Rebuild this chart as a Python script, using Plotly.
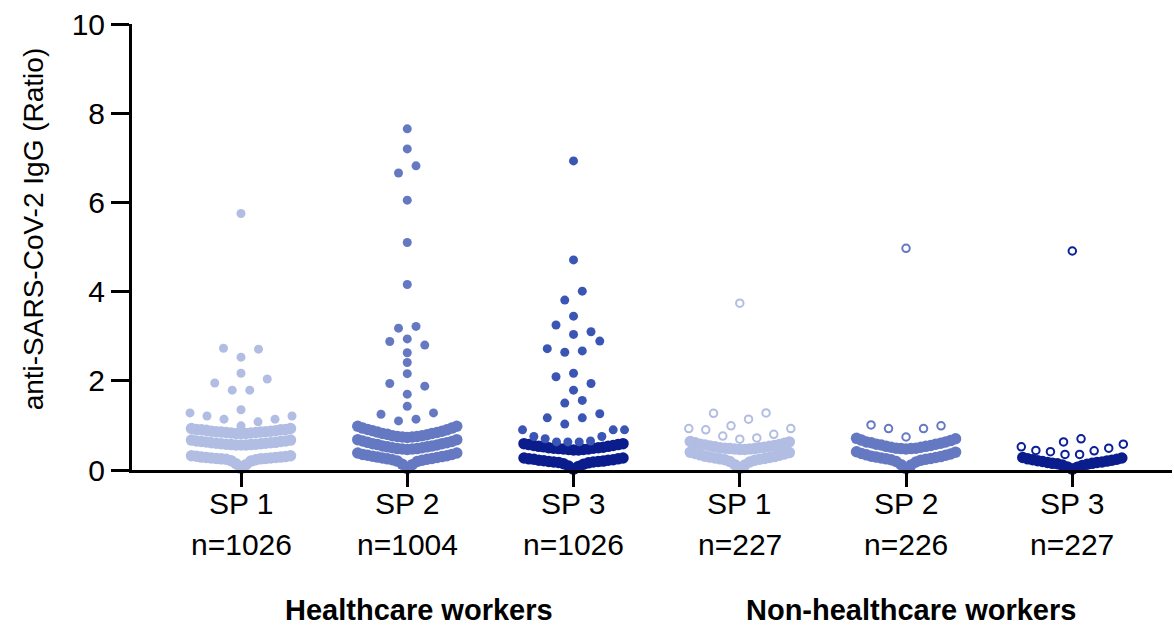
import plotly.graph_objects as go

# ---------------- data ----------------
categories = ["SP 1", "SP 2", "SP 3", "SP 1", "SP 2", "SP 3"]
n_labels = ["n=1026", "n=1004", "n=1026", "n=227", "n=226", "n=227"]
group_labels = ["Healthcare workers", "Non-healthcare workers"]
y_ticks = [0, 2, 4, 6, 8, 10]
y_title = "anti-SARS-CoV-2 IgG (Ratio)"

# Dense rows (the curved bands), values ascending within a row
hcw_sp1_bands = [
    [0.03, 0.12, 0.14, 0.20, 0.21, 0.23, 0.24, 0.25, 0.25, 0.26, 0.26, 0.27, 0.27, 0.28, 0.28, 0.29, 0.29, 0.30, 0.31, 0.32, 0.32],
    [0.56, 0.56, 0.56, 0.57, 0.57, 0.58, 0.58, 0.59, 0.59, 0.60, 0.60, 0.61, 0.61, 0.62, 0.63, 0.64, 0.64, 0.65, 0.65, 0.67, 0.67],
    [0.82, 0.82, 0.82, 0.83, 0.83, 0.84, 0.84, 0.85, 0.85, 0.86, 0.86, 0.87, 0.87, 0.88, 0.89, 0.90, 0.90, 0.91, 0.91, 0.93, 0.93],
]
hcw_sp2_bands = [
    [0.03, 0.12, 0.13, 0.19, 0.20, 0.22, 0.23, 0.24, 0.25, 0.26, 0.27, 0.28, 0.29, 0.30, 0.31, 0.32, 0.33, 0.35, 0.35, 0.38, 0.38],
    [0.46, 0.47, 0.47, 0.48, 0.48, 0.50, 0.50, 0.52, 0.52, 0.54, 0.54, 0.56, 0.57, 0.59, 0.59, 0.61, 0.62, 0.64, 0.65, 0.68, 0.68],
    [0.73, 0.74, 0.74, 0.75, 0.75, 0.77, 0.77, 0.79, 0.80, 0.82, 0.82, 0.84, 0.85, 0.87, 0.88, 0.90, 0.91, 0.94, 0.94, 0.98, 0.98],
]
hcw_sp3_bands = [
    [0.02, 0.08, 0.09, 0.13, 0.14, 0.16, 0.17, 0.18, 0.18, 0.19, 0.19, 0.20, 0.21, 0.22, 0.22, 0.23, 0.24, 0.25, 0.25, 0.27, 0.27],
    [0.45, 0.45, 0.46, 0.46, 0.47, 0.47, 0.48, 0.49, 0.49, 0.50, 0.50, 0.51, 0.52, 0.53, 0.53, 0.55, 0.55, 0.57, 0.57, 0.59, 0.59],
]
non_sp1_bands = [
    [0.03, 0.11, 0.12, 0.18, 0.19, 0.22, 0.23, 0.24, 0.25, 0.26, 0.27, 0.28, 0.29, 0.30, 0.31, 0.33, 0.34, 0.36, 0.37, 0.39, 0.40],
    [0.46, 0.46, 0.47, 0.47, 0.48, 0.48, 0.49, 0.50, 0.50, 0.51, 0.52, 0.53, 0.54, 0.55, 0.56, 0.57, 0.58, 0.60, 0.61, 0.63, 0.64],
]
non_sp2_bands = [
    [0.03, 0.11, 0.12, 0.18, 0.19, 0.22, 0.23, 0.24, 0.25, 0.26, 0.27, 0.28, 0.29, 0.30, 0.31, 0.33, 0.34, 0.36, 0.37, 0.40, 0.41],
    [0.47, 0.48, 0.48, 0.49, 0.49, 0.51, 0.51, 0.53, 0.53, 0.55, 0.56, 0.58, 0.58, 0.60, 0.61, 0.63, 0.63, 0.66, 0.67, 0.70, 0.71],
]
non_sp3_bands = [
    [0.02, 0.06, 0.07, 0.10, 0.11, 0.13, 0.14, 0.15, 0.15, 0.17, 0.17, 0.18, 0.19, 0.20, 0.21, 0.22, 0.23, 0.24, 0.25, 0.27, 0.28],
]

# Sparse rows (individual points), listed in the order they are laid out
hcw_sp1_rows = [
    [0.99, 1.08, 1.14, 1.14, 1.21, 1.21, 1.28], [1.35], [1.79, 1.79, 1.95, 2.04],
    [2.17], [2.53, 2.71, 2.73], [5.75],
]
hcw_sp2_rows = [
    [1.10, 1.14, 1.25, 1.28], [1.43], [1.70, 1.88, 1.94], [2.16], [2.41],
    [2.63, 2.80, 2.88], [2.94], [3.18, 3.22], [4.16], [5.10], [6.05],
    [6.66, 6.82], [7.20], [7.65],
]
hcw_sp3_rows = [
    [0.63, 0.63, 0.63, 0.65, 0.70, 0.75, 0.75, 0.90, 0.90, 0.90],
    [1.03, 1.17, 1.17, 1.26], [1.50, 1.56], [1.79, 1.94, 2.09], [2.17],
    [2.64, 2.67, 2.72, 2.89], [3.04, 3.10, 3.25], [3.45], [3.81, 4.01],
    [4.71], [6.93],
]
non_sp1_rows = [
    [0.69, 0.72, 0.76, 0.80, 0.90, 0.93, 0.93], [0.99, 1.14, 1.27, 1.28], [3.74],
]
non_sp2_rows = [
    [0.74, 0.93, 0.93, 0.99, 1.01], [4.97],
]
non_sp3_rows = [
    [0.35, 0.35, 0.41, 0.43, 0.44, 0.49, 0.52, 0.58], [0.63, 0.70], [4.91],
]

all_bands = [hcw_sp1_bands, hcw_sp2_bands, hcw_sp3_bands,
             non_sp1_bands, non_sp2_bands, non_sp3_bands]
all_rows = [hcw_sp1_rows, hcw_sp2_rows, hcw_sp3_rows,
            non_sp1_rows, non_sp2_rows, non_sp3_rows]

# ---------------- styles ----------------
LIGHT = "#b2bde3"
MEDIUM = "#6579c3"
SP3_DOT = "#3b55b5"
NAVY = "#0b1d8d"
NAVY_RING = "#0b1f98"
point_colors = [LIGHT, MEDIUM, SP3_DOT, LIGHT, MEDIUM, NAVY_RING]
band_colors = [LIGHT, MEDIUM, NAVY, LIGHT, MEDIUM, NAVY]
open_marker = [False, False, False, True, True, True]

PX_PER_CAT = 166.26
MAX_STEP = 17.5 / PX_PER_CAT
HALF = 51.0 / PX_PER_CAT
HALF_DENSE = 49.5 / PX_PER_CAT
FONT = "Liberation Sans, Arial, Helvetica, sans-serif"


def layout_row(values, center, max_step, half):
    m = len(values)
    step = max_step if m == 1 else min(max_step, 2 * half / (m - 1))
    xs = []
    for i in range(m):
        if m % 2 == 1:
            k = (i + 1) // 2
            off = 0 if i == 0 else (k if i % 2 == 1 else -k)
        else:
            k = i // 2 + 0.5
            off = -k if i % 2 == 0 else k
        xs.append(center + off * step)
    return xs


fig = go.Figure()
for ci in range(len(categories)):
    bx, by = [], []
    for band in all_bands[ci]:
        m = len(band)
        bx += layout_row(band, ci, 2 * HALF_DENSE / (m - 1), HALF_DENSE)
        by += band
    fig.add_trace(go.Scatter(
        x=bx, y=by, mode="markers", cliponaxis=False, hoverinfo="skip",
        marker=dict(size=11.5, color=band_colors[ci], line=dict(width=0)),
    ))
    px_, py_ = [], []
    for row in all_rows[ci]:
        px_ += layout_row(row, ci, MAX_STEP, HALF)
        py_ += row
    if open_marker[ci]:
        mk = dict(symbol="circle-open", size=7.5, color=point_colors[ci],
                  line=dict(width=2, color=point_colors[ci]))
    else:
        mk = dict(symbol="circle", size=9, color=point_colors[ci], line=dict(width=0))
    fig.add_trace(go.Scatter(x=px_, y=py_, mode="markers", cliponaxis=False,
                             marker=mk, hoverinfo="skip"))

annotations = []
for ci in range(len(categories)):
    annotations.append(dict(x=ci, y=-0.074, xref="x", yref="paper", text=categories[ci],
                            showarrow=False, xanchor="center", yanchor="middle",
                            font=dict(family=FONT, size=30, color="black")))
    annotations.append(dict(x=ci, y=-0.168, xref="x", yref="paper", text=n_labels[ci],
                            showarrow=False, xanchor="center", yanchor="middle",
                            font=dict(family=FONT, size=30, color="black")))
group_x = [1.07, 4.03]
for gi, g in enumerate(group_labels):
    annotations.append(dict(x=group_x[gi], y=-0.314, xref="x", yref="paper",
                            text="<b>" + g + "</b>", showarrow=False,
                            xanchor="center", yanchor="middle",
                            font=dict(family=FONT, size=29, color="black")))
annotations.append(dict(x=-0.095, y=0.54, xref="paper", yref="paper", text=y_title,
                        textangle=-90, showarrow=False, xanchor="center", yanchor="middle",
                        font=dict(family=FONT, size=28, color="black")))

fig.update_layout(
    width=1174, height=626,
    margin=dict(l=132, r=2, t=24, b=156),
    paper_bgcolor="white", plot_bgcolor="white",
    showlegend=False,
    annotations=annotations,
    xaxis=dict(range=[(132 - 241) / PX_PER_CAT, (1172 - 241) / PX_PER_CAT],
               tickvals=list(range(len(categories))), showticklabels=False,
               ticks="outside", ticklen=14, tickwidth=3, tickcolor="black",
               showline=True, linewidth=3, linecolor="black",
               showgrid=False, zeroline=False, fixedrange=True),
    yaxis=dict(range=[0, 10], tickvals=y_ticks, ticktext=[str(t) for t in y_ticks],
               ticks="outside", ticklen=18, tickwidth=3, tickcolor="black",
               tickfont=dict(family=FONT, size=30, color="black"),
               showline=True, linewidth=3, linecolor="black",
               showgrid=False, zeroline=False, fixedrange=True),
)

fig.write_html(
    "out.html",
    config={"displayModeBar": False},
    post_script="document.body.style.margin='0';document.body.style.overflow='hidden';",
)
